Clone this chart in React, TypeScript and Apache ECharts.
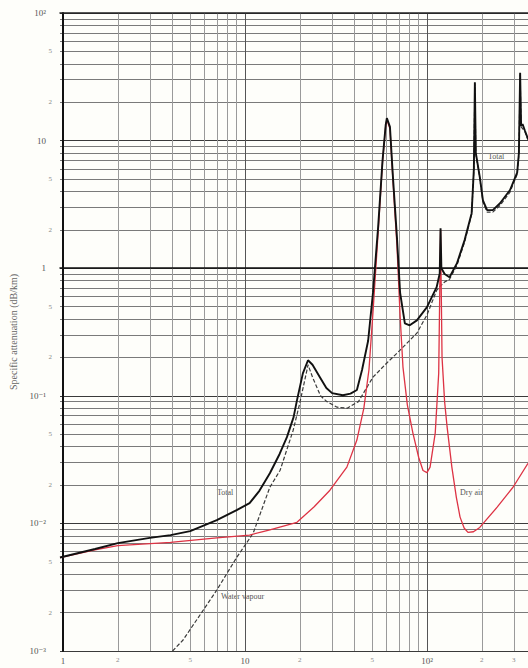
import React, { useEffect, useRef } from "react";
import * as echarts from "echarts";

// Frequency (GHz) and specific attenuation (dB/km)
const totalFreq = [0.963, 1.5, 2.0, 3.0, 3.9, 5.0, 7.0, 9.0, 10.6, 12.0, 13.7, 15.5, 17.0, 18.5, 19.3, 20.8, 22.2, 23.5, 25.8, 28, 30.1, 34.5, 38, 41.2, 44, 47.5, 50.5, 53.9, 57.0, 59.3, 60.2, 62.6, 65.0, 68.4, 71.2, 75.6, 80.4, 88, 100, 113, 117.5, 118.75, 120, 125, 133, 146, 161, 176, 181, 183.3, 185.5, 195, 203, 214, 230, 252, 286, 313, 320, 325, 329, 335, 345, 359];
const totalVal = [0.0054, 0.0063, 0.0070, 0.0077, 0.0081, 0.0087, 0.0106, 0.0127, 0.0144, 0.018, 0.0247, 0.035, 0.0474, 0.068, 0.092, 0.15, 0.19, 0.175, 0.14, 0.115, 0.105, 0.101, 0.104, 0.111, 0.16, 0.27, 0.64, 2.1, 7.0, 13.2, 15.0, 12.8, 5.2, 1.75, 0.64, 0.37, 0.357, 0.39, 0.495, 0.71, 0.91, 2.06, 1.0, 0.9, 0.85, 1.09, 1.66, 2.7, 6.0, 28.6, 8.0, 5.2, 3.4, 2.85, 2.85, 3.23, 4.1, 5.6, 8.0, 34, 13, 13.5, 12, 10.3];

const dryFreq = [0.963, 1.5, 2.0, 3.9, 7.0, 10.6, 13.7, 19.3, 24, 29.3, 36.3, 41.2, 45, 48, 50.5, 53.9, 57, 59.3, 60.2, 62.6, 65, 68.4, 71.2, 73.8, 78, 83.7, 90, 95.1, 100, 104, 111, 116, 118.75, 121, 125, 129, 137, 145, 152, 160, 168, 180, 195, 243, 297, 359];
const dryVal = [0.0054, 0.0062, 0.0067, 0.0071, 0.0077, 0.0081, 0.0089, 0.0102, 0.0135, 0.0182, 0.0276, 0.045, 0.08, 0.16, 0.45, 1.9, 6.8, 13, 14.6, 12.4, 4.9, 1.5, 0.42, 0.168, 0.085, 0.051, 0.033, 0.026, 0.025, 0.0276, 0.051, 0.15, 2.0, 0.2, 0.09, 0.057, 0.0276, 0.016, 0.0112, 0.0092, 0.0085, 0.0086, 0.0093, 0.0134, 0.0192, 0.0296];

const vapourFreq = [4.0, 4.57, 7.0, 9.0, 11.1, 12.5, 13.7, 15.6, 18.4, 20.0, 21.9, 22.2, 23.5, 26, 28.2, 32.1, 36.5, 42, 50.5, 60, 71.2, 88, 100, 113, 118, 125, 133, 146, 161, 176, 181, 183.3, 185.5, 195, 203, 214, 230, 252, 286, 313, 320, 325, 329, 345, 359];
const vapourVal = [0.001, 0.00122, 0.003, 0.0054, 0.0084, 0.0134, 0.0192, 0.0261, 0.0537, 0.0875, 0.159, 0.175, 0.14, 0.1, 0.09, 0.0814, 0.08, 0.09, 0.14, 0.18, 0.228, 0.31, 0.43, 0.67, 0.72, 0.78, 0.82, 1.05, 1.6, 2.65, 5.9, 28, 7.9, 5.1, 3.3, 2.75, 2.75, 3.1, 3.95, 5.45, 7.8, 33, 12.8, 11.8, 10.1];

const xLabelValues = [1, 2, 5, 10, 20, 50, 100, 200, 300];
const yLabelValues = [0.001, 0.002, 0.005, 0.01, 0.02, 0.05, 0.1, 0.2, 0.5, 1, 2, 5, 10, 20, 50, 100];

const freqMin = 0.963;
const freqMax = 359;
const attMin = 0.001;
const attMax = 100;

const yAxisTitle = "Specific attenuation (dB/km)";
const curveNames = ["Total", "Dry air", "Water vapour"];

const lg = Math.log10;
const supMap: Record<string, string> = { "-": "\u207B", "0": "\u2070", "1": "\u00B9", "2": "\u00B2", "3": "\u00B3", "4": "\u2074", "5": "\u2075" };

function gridLogValues(minV: number, maxV: number): number[] {
  const out: number[] = [];
  const lo = Math.floor(lg(minV));
  const hi = Math.ceil(lg(maxV));
  for (let n = lo; n <= hi; n++) {
    for (let k = 1; k <= 9; k++) {
      const v = n + lg(k);
      if (v >= lg(minV) - 1e-9 && v <= lg(maxV) + 1e-9) out.push(v);
    }
  }
  return out;
}

function fmtLog(v: number): string {
  const n = Math.floor(v + 1e-6);
  let k = Math.round(Math.pow(10, v - n));
  let e = n;
  if (k === 10) { k = 1; e = n + 1; }
  if (k === 1) {
    if (e === 0) return "{d|1}";
    if (e === 1) return "{d|10}";
    return "{d|10" + String(e).split("").map((c) => supMap[c] || c).join("") + "}";
  }
  return "{m|" + k + "}";
}

function toPairs(fs: number[], vs: number[]) {
  return fs.map((f, i) => [lg(f), lg(vs[i])]);
}

const serif = "'Liberation Serif', 'DejaVu Serif', serif";

export default function App() {
  const ref = useRef<HTMLDivElement>(null);
  useEffect(() => {
    if (!ref.current) return;
    const chart = echarts.init(ref.current, undefined, { renderer: "svg" });
    const xGrid = gridLogValues(freqMin, freqMax);
    const yGrid = gridLogValues(attMin, attMax);
    const hLines = ["#3a3a3a", "#7a7a7a", "#7a7a7a", "#7a7a7a", "#7a7a7a", "#7a7a7a", "#7a7a7a", "#7a7a7a", "#7a7a7a"];
    const vLines = ["#555", "#9a9a9a", "#9a9a9a", "#9a9a9a", "#9a9a9a", "#9a9a9a", "#9a9a9a", "#9a9a9a", "#9a9a9a"];
    const richX = {
      d: { fontFamily: serif, fontSize: 9, color: "#555" },
      m: { fontFamily: serif, fontSize: 7, color: "#888" },
    };
    const richY = {
      d: { fontFamily: serif, fontSize: 9, color: "#555", padding: [0, 6, 0, 0] },
      m: { fontFamily: serif, fontSize: 7, color: "#888" },
    };
    chart.setOption({
      animation: false,
      backgroundColor: "#fefefa",
      grid: { left: 60, right: 0, top: 13, bottom: 17, containLabel: false },
      xAxis: [
        {
          type: "value",
          min: lg(freqMin),
          max: lg(freqMax),
          axisLine: { show: true, lineStyle: { color: "#111", width: 1.5 } },
          axisTick: { show: false, customValues: xGrid },
          axisLabel: {
            customValues: xLabelValues.map(lg),
            formatter: (v: number) => fmtLog(v),
            rich: richX,
            margin: 5,
          },
          splitLine: { show: true, lineStyle: { color: vLines, width: 1 } },
        },
        {
          type: "value",
          position: "top",
          min: lg(freqMin),
          max: lg(freqMax),
          axisLine: { show: true, onZero: false, lineStyle: { color: "#222", width: 1.5 } },
          axisTick: { show: false },
          axisLabel: { show: false },
          splitLine: { show: false },
        },
      ],
      yAxis: {
        type: "value",
        min: lg(attMin),
        max: lg(attMax),
        name: yAxisTitle,
        nameLocation: "middle",
        nameGap: 40,
        nameTextStyle: { fontFamily: serif, fontSize: 10, color: "#666" },
        axisLine: { show: true, lineStyle: { color: "#111", width: 2 } },
        axisTick: { show: false, customValues: yGrid },
        axisLabel: {
          customValues: yLabelValues.map(lg),
          formatter: (v: number) => fmtLog(v),
          rich: richY,
          margin: 8,
        },
        splitLine: { show: true, lineStyle: { color: hLines, width: 1 } },
      },
      series: [
        {
          name: curveNames[2],
          type: "line",
          showSymbol: false,
          data: toPairs(vapourFreq, vapourVal),
          lineStyle: { color: "#3a3a3a", width: 1.2, type: [4, 2] },
          z: 2,
        },
        {
          name: curveNames[1],
          type: "line",
          showSymbol: false,
          data: toPairs(dryFreq, dryVal),
          lineStyle: { color: "#dd3344", width: 1.3 },
          z: 3,
        },
        {
          name: curveNames[0],
          type: "line",
          showSymbol: false,
          data: toPairs(totalFreq, totalVal),
          lineStyle: { color: "#111", width: 1.9 },
          z: 4,
        },
      ],
      graphic: [
        { type: "text", left: 488, top: 152, style: { text: curveNames[0], font: "8px " + serif, fill: "#555" } },
        { type: "text", left: 217, top: 488, style: { text: curveNames[0], font: "8px " + serif, fill: "#555" } },
        { type: "text", left: 460, top: 488, style: { text: curveNames[1], font: "8px " + serif, fill: "#555" } },
        { type: "text", left: 221, top: 592, style: { text: curveNames[2], font: "8px " + serif, fill: "#555" } },
      ],
    });
    return () => chart.dispose();
  }, []);
  return <div ref={ref} style={{ position: "absolute", left: 0, top: 0, width: 528, height: 668 }} />;
}
